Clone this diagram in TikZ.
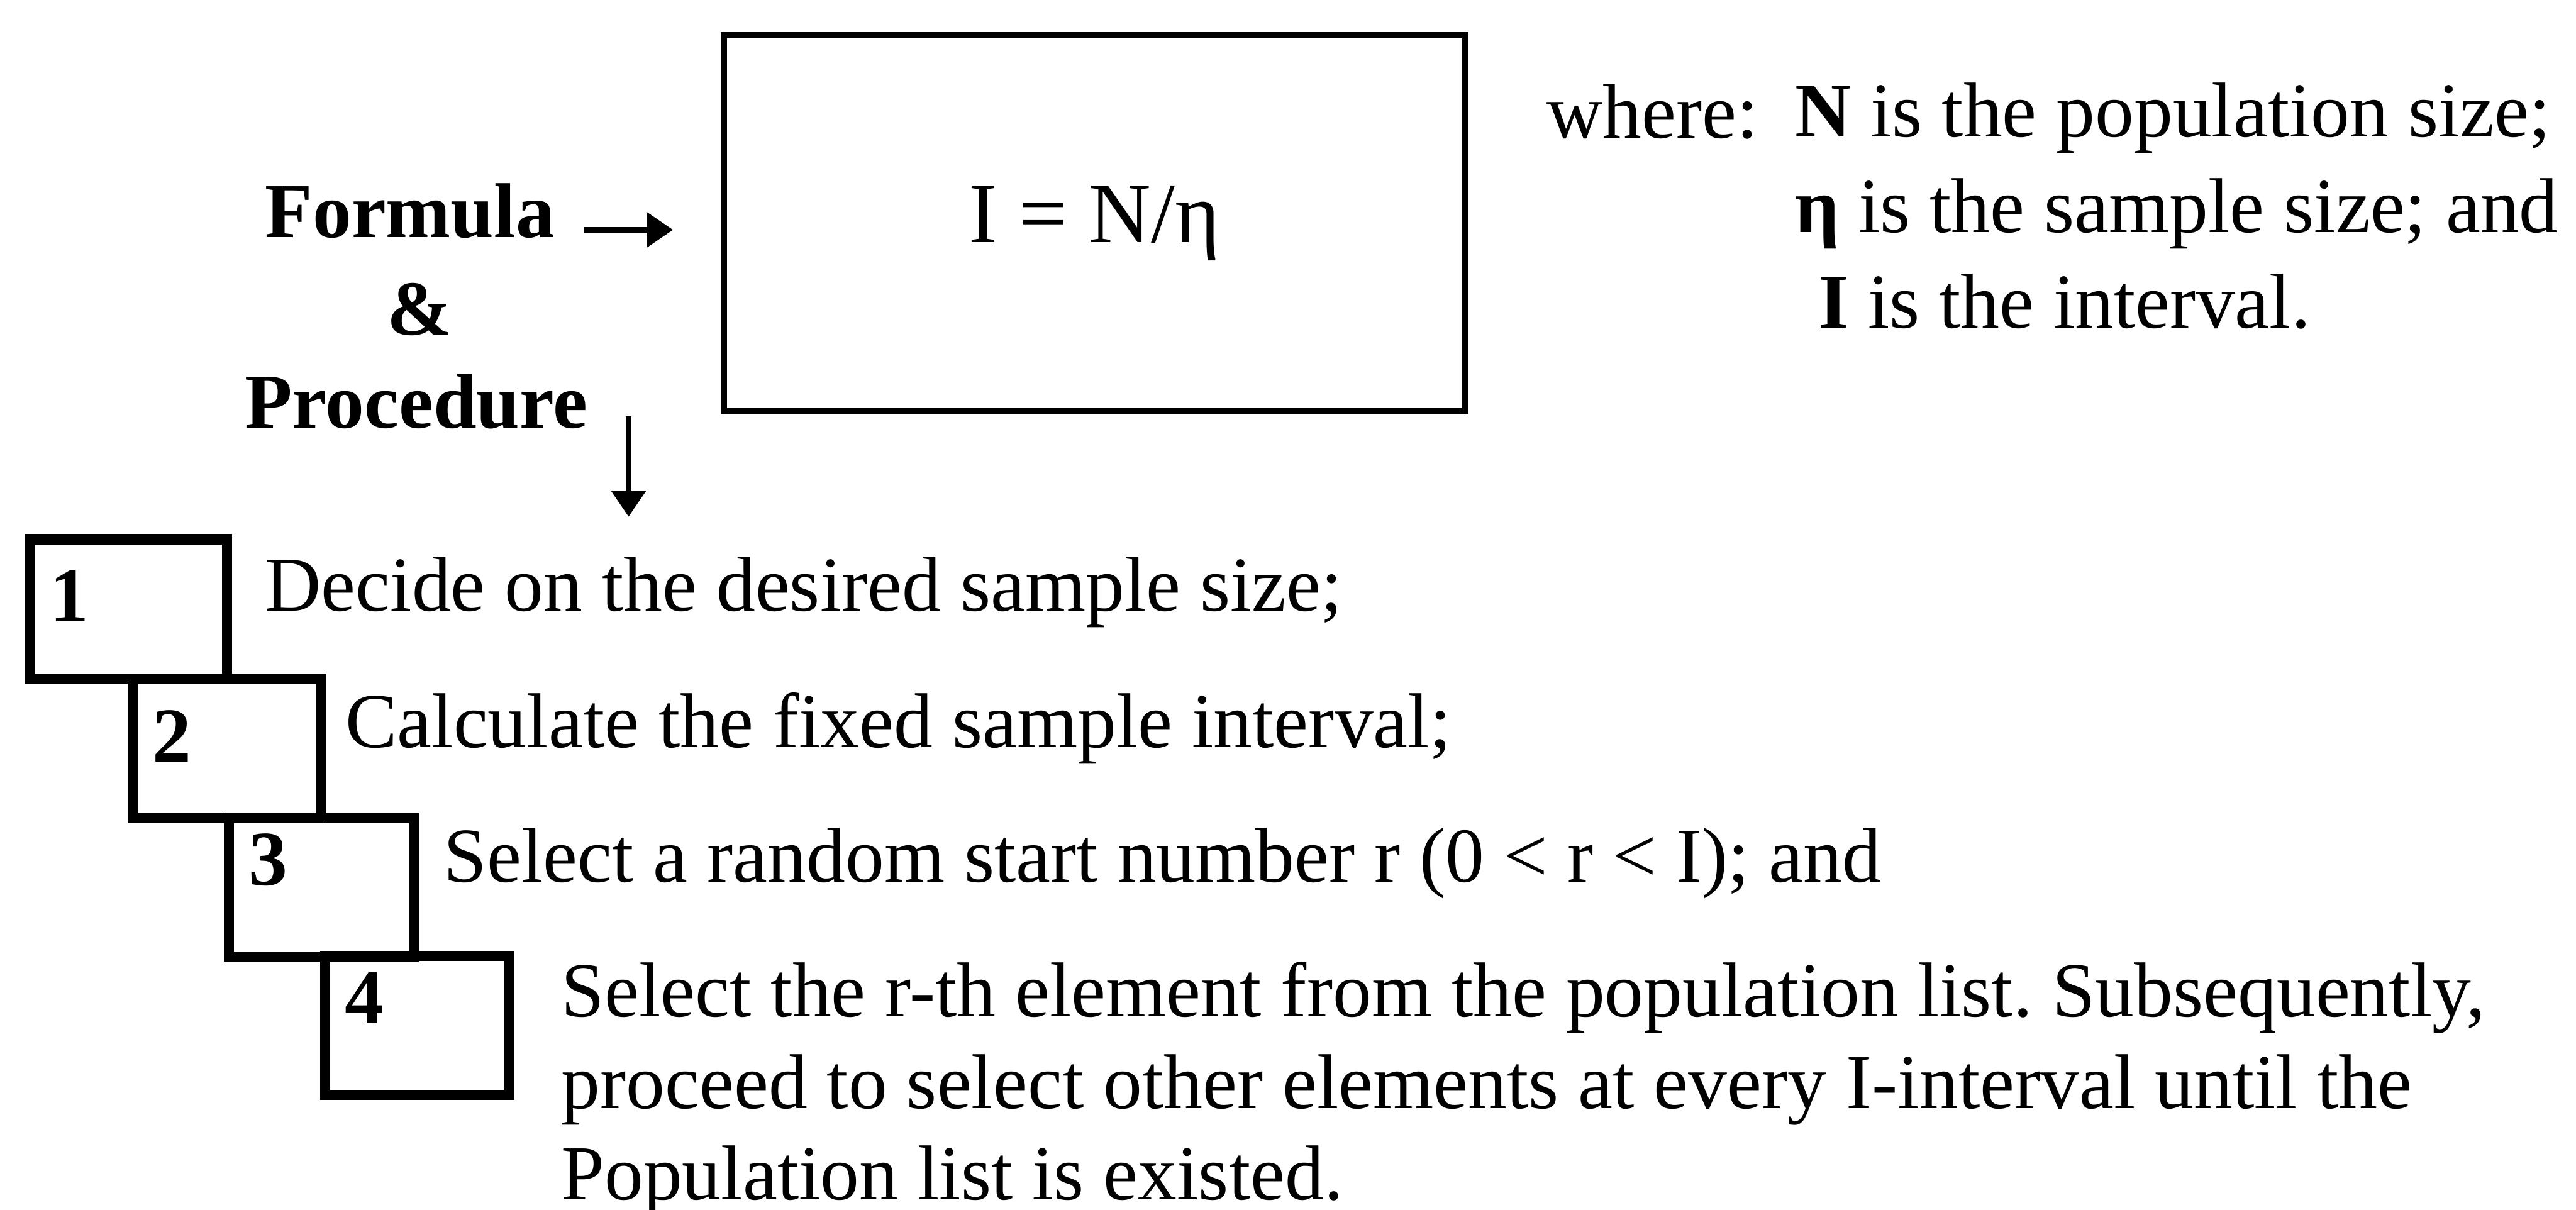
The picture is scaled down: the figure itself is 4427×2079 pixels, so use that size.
\documentclass[tikz,border=0pt]{standalone}
\usepackage{fontspec}
\setmainfont{Liberation Serif}
\usetikzlibrary{arrows.meta}
\frenchspacing

\begin{document}
\begin{tikzpicture}[x=0.01cm,y=-0.01cm,
  txt/.style={inner sep=0pt,anchor=base west,font=\fontsize{38}{44.7}\selectfont},
  bld/.style={txt,font=\fontsize{38}{44.7}\selectfont\bfseries},
  stepbox/.style={draw,line width=5pt,minimum height=2.39cm,inner sep=0pt,anchor=north west},
  arr/.style={line width=3pt,-{Triangle[length=0.45cm,width=0.58cm]}}]
\useasboundingbox (0,0) rectangle (4427,2079);
% formula
\node[draw,line width=3pt,minimum width=12.73cm,minimum height=6.46cm,
  font=\fontsize{42}{50}\selectfont] (frm) at (1881,384) {I = N/η};
\node[bld] (fml) at (455,408) {Formula};
\node[bld] (amp) at (665,576) {\&};
\node[bld] (prc) at (420,735) {Procedure};
\coordinate (fa) at ([xshift=0.49cm,yshift=0.13cm]fml.base east);
\draw[arr,shorten >=0.82cm] (fa) -- (fa -| frm.west);
\coordinate (pa) at ([xshift=0.70cm,yshift=0.2cm]prc.base east);
\coordinate (pb) at ([yshift=-1.73cm]pa);
\draw[arr] (pa) -- (pb);
% where (base = last line)
\node[txt] (whr) at (2657,237) {where:};
\node[txt,align=left,font=\fontsize{38}{46.8}\selectfont] (defs) at (3084,564)
  {\textbf{N} is the population size;\\
   \textbf{η} is the sample size; and\\
   \hspace*{0.4cm}\textbf{I} is the interval.};
% steps
\foreach \n/\x/\y/\w/\d in {1/43/918/3.38/150,2/219/1158/3.24/151,
  3/385/1396/3.18/125,4/550/1634/3.16/125} {
  \node[stepbox,minimum width=\w cm] (s\n) at (\x,\y) {};
  \node[bld] (n\n) at ([shift={(42,\d)}]s\n.north west) {\n};
}
\node[txt] (t1) at (455,1050) {Decide on the desired sample size;};
\node[txt] (t2) at (593,1284) {Calculate the fixed sample interval;};
\node[txt] (t3) at (762,1516) {Select a random start number r (0 < r < I); and};
\node[txt,align=left] (t4) at (964,2062)
  {Select the r-th element from the population list. Subsequently,\\
   proceed to select other elements at every I-interval until the\\
   Population list is existed.};
\end{tikzpicture}
\end{document}
